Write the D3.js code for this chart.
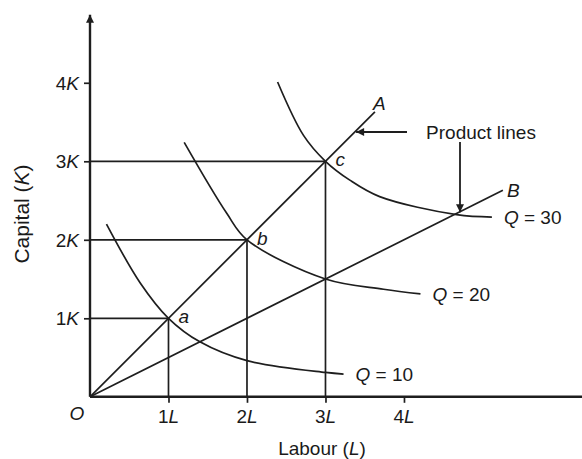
<!DOCTYPE html>
<html><head><meta charset="utf-8">
<script src="https://cdn.jsdelivr.net/npm/d3@7"></script>
<style>
body{margin:0;background:#fff;}
svg text{font-family:"Liberation Sans",Arial,Helvetica,sans-serif;fill:#1a1a1a;}
</style></head>
<body><svg id="chart" width="582" height="459"></svg>
<script>
// ---- data ----
const xTickLabels = ["1", "2", "3", "4"];   // multiples of L
const yTickLabels = ["1", "2", "3", "4"];   // multiples of K
const xTickValues = [1, 2, 3, 4];
const yTickValues = [1, 2, 3, 4];
const optimumPoints = ["a", "b", "c"];
const optimumLabour = [1, 2, 3];
const optimumCapital = [1, 2, 3];
const isoquantNames = ["Q = 10", "Q = 20", "Q = 30"];
const q10Labour  = [0.21, 0.64, 1.00, 1.40, 2.00, 3.00, 3.23];
const q10Capital = [2.20, 1.45, 1.00, 0.70, 0.46, 0.31, 0.29];
const q20Labour  = [1.20, 1.74, 2.00, 3.00, 3.74, 4.21];
const q20Capital = [3.24, 2.34, 2.00, 1.50, 1.37, 1.31];
const q30Labour  = [2.39, 2.72, 3.00, 3.31, 3.69, 4.67, 5.12];
const q30Capital = [4.01, 3.33, 3.00, 2.76, 2.55, 2.32, 2.29];
const rayNames = ["A", "B"];
const rayEndLabour  = [3.63, 5.26];
const rayEndCapital = [3.63, 2.63];

// ---- drawing ----
const svg = d3.select("#chart");
const ink = "#1e1e1e";
const x = d3.scaleLinear().domain([0, 6.268]).range([90, 582]);
const y = d3.scaleLinear().domain([0, 4.866]).range([396.8, 14.8]);

const defs = svg.append("defs");
defs.append("marker").attr("id","arr").attr("viewBox","0 0 10 10")
  .attr("refX",10).attr("refY",5).attr("markerWidth",10).attr("markerHeight",8)
  .attr("markerUnits","userSpaceOnUse").attr("orient","auto")
  .append("path").attr("d","M0,0L10,5L0,10Z").attr("fill",ink);

// guide lines to a, b, c
optimumLabour.forEach((l, i) => {
  const k = optimumCapital[i];
  svg.append("line").attr("x1", x(0)).attr("x2", x(l)).attr("y1", y(k)).attr("y2", y(k))
    .attr("stroke", ink).attr("stroke-width", 1.7);
  svg.append("line").attr("x1", x(l)).attr("x2", x(l)).attr("y1", y(k)).attr("y2", y(0))
    .attr("stroke", ink).attr("stroke-width", 1.7);
});

// rays (product lines)
rayNames.forEach((n, i) => {
  svg.append("line").attr("x1", x(0)).attr("y1", y(0))
    .attr("x2", x(rayEndLabour[i])).attr("y2", y(rayEndCapital[i]))
    .attr("stroke", ink).attr("stroke-width", 1.7);
});

// isoquants
const line = d3.line().x(d => x(d[0])).y(d => y(d[1])).curve(d3.curveCatmullRom.alpha(0.5));
[[q10Labour, q10Capital], [q20Labour, q20Capital], [q30Labour, q30Capital]].forEach(([L, K]) => {
  svg.append("path").attr("d", line(L.map((v, i) => [v, K[i]])))
    .attr("fill", "none").attr("stroke", ink).attr("stroke-width", 1.7);
});

// axes
const xAxis = d3.axisBottom(x).tickValues(xTickValues).tickSize(6).tickFormat("");
const yAxis = d3.axisLeft(y).tickValues(yTickValues).tickSize(6).tickFormat("");
const gx = svg.append("g").attr("transform", `translate(0,${y(0)})`).call(xAxis);
const gy = svg.append("g").attr("transform", `translate(${x(0)},0)`).call(yAxis);
[gx, gy].forEach(g => {
  g.select(".domain").remove();
  g.selectAll(".tick line").attr("stroke", ink).attr("stroke-width", 1.7);
});
svg.append("line").attr("x1", x(0)).attr("x2", 582).attr("y1", y(0)).attr("y2", y(0))
  .attr("stroke", ink).attr("stroke-width", 2.4);
svg.append("line").attr("x1", x(0)).attr("x2", x(0)).attr("y1", y(0)).attr("y2", y(4.866))
  .attr("stroke", ink).attr("stroke-width", 2.4).attr("marker-end", "url(#arr)");

const fs = 19;
// tick labels
xTickValues.forEach((v, i) => {
  const t = svg.append("text").attr("x", x(v)).attr("y", y(0) + 26)
    .attr("text-anchor", "middle").attr("font-size", fs);
  t.append("tspan").text(xTickLabels[i]);
  t.append("tspan").attr("font-style", "italic").text("L");
});
yTickValues.forEach((v, i) => {
  const t = svg.append("text").attr("x", x(0) - 11).attr("y", y(v) + 7)
    .attr("text-anchor", "end").attr("font-size", fs);
  t.append("tspan").text(yTickLabels[i]);
  t.append("tspan").attr("font-style", "italic").text("K");
});
svg.append("text").attr("x", x(0) - 13).attr("y", y(0) + 23).attr("text-anchor", "middle")
  .attr("font-size", fs).attr("font-style", "italic").text("O");

// axis titles
const xt = svg.append("text").attr("x", 322).attr("y", 455).attr("text-anchor", "middle").attr("font-size", fs);
xt.append("tspan").text("Labour (");
xt.append("tspan").attr("font-style", "italic").text("L");
xt.append("tspan").text(")");
const yt = svg.append("text").attr("transform", "translate(29,214) rotate(-90)")
  .attr("text-anchor", "middle").attr("font-size", 21);
yt.append("tspan").text("Capital (");
yt.append("tspan").attr("font-style", "italic").text("K");
yt.append("tspan").text(")");

// point labels
optimumPoints.forEach((p, i) => {
  svg.append("text").attr("x", x(optimumLabour[i]) + 10).attr("y", y(optimumCapital[i]) + 5)
    .attr("font-size", fs).attr("font-style", "italic").text(p);
});

// ray labels
rayNames.forEach((n, i) => {
  svg.append("text").attr("x", x(rayEndLabour[i]) + (i === 0 ? -2 : 4))
    .attr("y", y(rayEndCapital[i]) + (i === 0 ? -2 : 7))
    .attr("font-size", fs).attr("font-style", "italic").text(n);
});

// isoquant labels
const qEnds = [[q10Labour, q10Capital], [q20Labour, q20Capital], [q30Labour, q30Capital]];
qEnds.forEach(([L, K], i) => {
  const t = svg.append("text").attr("x", x(L[L.length - 1]) + 12).attr("y", y(K[K.length - 1]) + 7)
    .attr("font-size", fs);
  t.append("tspan").attr("font-style", "italic").text("Q");
  t.append("tspan").text(isoquantNames[i].slice(1));
});

// annotation
svg.append("text").attr("x", 481).attr("y", 139).attr("text-anchor", "middle")
  .attr("font-size", fs).text("Product lines");
svg.append("line").attr("x1", 407).attr("y1", 132).attr("x2", x(3.39)).attr("y2", 132)
  .attr("stroke", ink).attr("stroke-width", 1.8).attr("marker-end", "url(#arr)");
svg.append("line").attr("x1", 460).attr("y1", 142).attr("x2", 460).attr("y2", y(2.35))
  .attr("stroke", ink).attr("stroke-width", 1.8).attr("marker-end", "url(#arr)");
</script></body></html>
